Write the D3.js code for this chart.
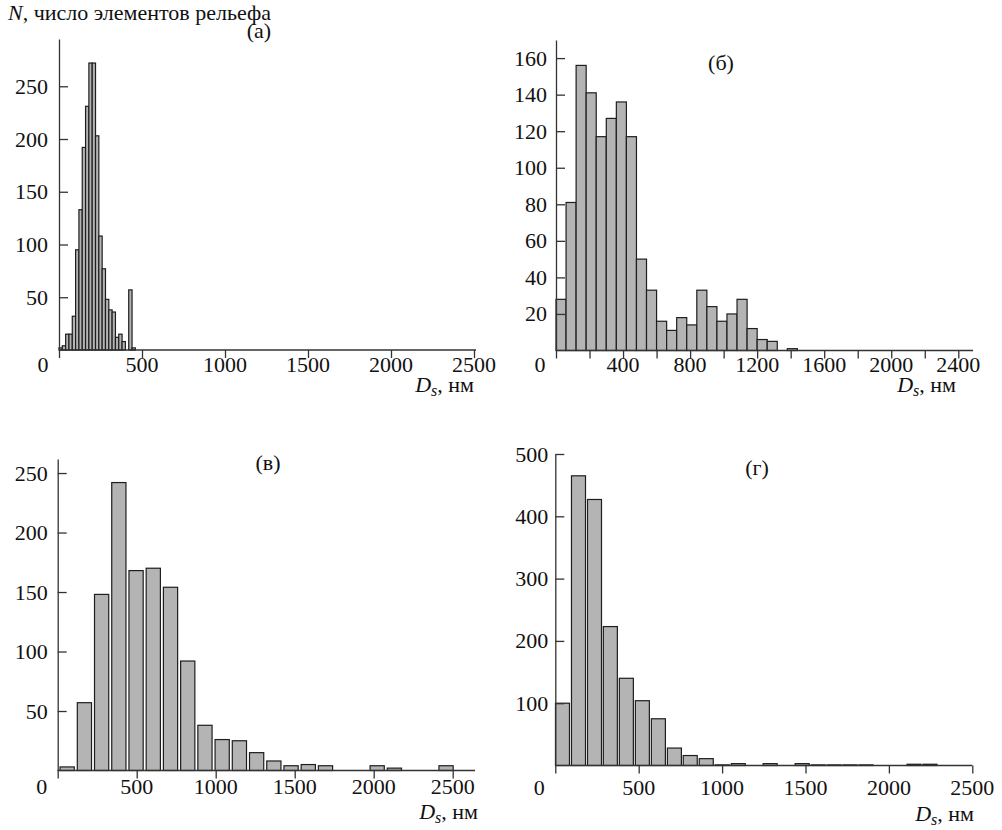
<!doctype html>
<html lang="ru">
<head>
<meta charset="utf-8">
<title>Распределение элементов рельефа</title>
<script src="https://cdn.jsdelivr.net/npm/d3@7"></script>
<style>
  body { margin: 0; background: #fff; }
  svg text { font-family: "Liberation Serif", "Times New Roman", "DejaVu Serif", serif; font-size: 22px; fill: #111; }
  .bar { fill: #b4b4b4; stroke: #1e1e1e; stroke-width: 1.2; }
  .axis path, .axis line, .axisline { stroke: #333; stroke-width: 1.3; fill: none; }
</style>
</head>
<body>
<svg id="chart" width="1002" height="830"></svg>
<script>

  // (а) bin centres, nm, and counts
  var centersA = [10, 30, 50, 70, 90, 110, 130, 150, 170, 190, 210, 230, 250, 270, 290, 310, 330, 350, 370, 390, 410, 430, 450];
  var countsA  = [2, 4, 15, 15, 32, 95, 133, 192, 231, 272, 272, 203, 108, 77, 48, 38, 36, 12, 15, 8, 0, 57, 2];

  // (б)
  var centersB = [30, 90, 150, 210, 270, 330, 390, 450, 510, 570, 630, 690, 750, 810, 870, 930, 990, 1050, 1110, 1170, 1230, 1290, 1350, 1410];
  var countsB  = [28, 81, 156, 141, 117, 127, 136, 117, 50, 33, 16, 11, 18, 14, 33, 24, 16, 20, 28, 12, 6, 5, 0, 1];

  // (в)
  var centersV = [60, 169, 278, 387, 496, 605, 714, 823, 932, 1041, 1150, 1259, 1368, 1477, 1586, 1695, 1804, 1913, 2022, 2131, 2240, 2349, 2458];
  var countsV  = [3, 57, 148, 242, 168, 170, 154, 92, 38, 26, 25, 15, 8, 4, 5, 4, 0, 0, 4, 2, 0, 0, 4];

  // (г)
  var centersG = [43, 139, 235, 330, 426, 522, 618, 714, 809, 905, 1001, 1097, 1193, 1288, 1384, 1480, 1576, 1672, 1767, 1863, 1959, 2055, 2151, 2246];
  var countsG  = [100, 465, 427, 223, 140, 104, 75, 28, 16, 11, 1, 3, 0, 3, 0, 3, 1, 1, 1, 1, 0, 0, 2, 2];

  // tick values
  var ticksX2500 = [0, 500, 1000, 1500, 2000, 2500];
  var ticksXB    = [0, 200, 400, 600, 800, 1000, 1200, 1400, 1600, 1800, 2000, 2200, 2400];
  var labelsXB   = [0, 400, 800, 1200, 1600, 2000, 2400];
  var ticksYA    = [50, 100, 150, 200, 250];
  var ticksYB    = [20, 40, 60, 80, 100, 120, 140, 160];
  var ticksYG    = [100, 200, 300, 400, 500];

  var FONT = '"Liberation Serif", "Times New Roman", "DejaVu Serif", serif';
  var svg = d3.select("#chart");

  // panel layouts (pixels)
  var panels = [
    { name: "(а)", centers: centersA, counts: countsA, binW: 20,
      x0: 59, xDomMax: 2500, xDomPx: 474, xEnd: 476, yBase: 350, yTop: 39, yTopVal: 294.8,
      xTicks: ticksX2500, xLabels: ticksX2500, yTicks: ticksYA, yPad: 11,
      tag: [259, 38], dsX: 474, dsY: 392, xLabY: 372 },
    { name: "(б)", centers: centersB, counts: countsB, binW: 60,
      x0: 556, xDomMax: 2400, xDomPx: 958.3, xEnd: 973, yBase: 350.5, yTop: 40, yTopVal: 169.9,
      xTicks: ticksXB, xLabels: labelsXB, yTicks: ticksYB, yPad: 9,
      tag: [721, 70], dsX: 956, dsY: 392, xLabY: 372 },
    { name: "(в)", centers: centersV, counts: countsV, binW: 90,
      x0: 57.7, xDomMax: 2500, xDomPx: 452.7, xEnd: 475, yBase: 770.5, yTop: 459, yTopVal: 261.8,
      xTicks: ticksX2500, xLabels: ticksX2500, yTicks: ticksYA, yPad: 10,
      tag: [268, 470], dsX: 478, dsY: 819, xLabY: 794 },
    { name: "(г)", centers: centersG, counts: countsG, binW: 84,
      x0: 555.3, xDomMax: 2500, xDomPx: 972.3, xEnd: 972.3, yBase: 765.5, yTop: 454, yTopVal: 500,
      xTicks: ticksX2500, xLabels: ticksX2500, yTicks: ticksYG, yPad: 7,
      tag: [757, 475], dsX: 974, dsY: 821, xLabY: 795 }
  ];

  panels.forEach(function(p) {
    var x = d3.scaleLinear().domain([0, p.xDomMax]).range([p.x0, p.xDomPx]);
    var y = d3.scaleLinear().domain([0, p.yTopVal]).range([p.yBase, p.yTop]);
    var g = svg.append("g");

    var bins = p.centers.map(function(c, i) { return { c: c, n: p.counts[i] }; })
                        .filter(function(d) { return d.n > 0; });

    // bars
    g.selectAll(".bar")
      .data(bins)
      .enter()
      .append("rect")
      .attr("class", "bar")
      .attr("x", function(d) { return x(d.c - p.binW / 2); })
      .attr("width", function(d) { return x(d.c + p.binW / 2) - x(d.c - p.binW / 2); })
      .attr("y", function(d) { return y(d.n); })
      .attr("height", function(d) { return y(0) - y(d.n); });

    // x axis: baseline line, downward ticks
    g.append("line")
      .attr("class", "axisline")
      .attr("x1", p.x0).attr("x2", p.xEnd)
      .attr("y1", p.yBase).attr("y2", p.yBase);
    var xa = g.append("g")
      .attr("class", "axis")
      .attr("transform", "translate(0," + p.yBase + ")")
      .call(d3.axisBottom(x).tickValues(p.xTicks).tickSize(8).tickFormat(""));
    xa.select(".domain").remove();

    g.selectAll(".xlab")
      .data(p.xLabels)
      .enter()
      .append("text")
      .attr("font-family", FONT)
      .attr("x", function(d) { return d === 0 ? x(0) - 16 : x(d); })
      .attr("y", p.xLabY)
      .attr("text-anchor", "middle")
      .text(function(d) { return d; });

    // y axis, ticks pointing inward
    var ya = g.append("g")
      .attr("class", "axis")
      .attr("transform", "translate(" + p.x0 + ",0)")
      .call(d3.axisLeft(y).tickValues(p.yTicks).tickSizeInner(-9).tickSizeOuter(0).tickPadding(p.yPad));
    ya.attr("font-family", FONT).attr("font-size", 22);
    ya.selectAll("text").attr("fill", "#111");

    // panel tag
    g.append("text")
      .attr("font-family", FONT)
      .attr("x", p.tag[0]).attr("y", p.tag[1])
      .attr("text-anchor", "middle")
      .text(p.name);

    // x label D_s, нм
    var t = g.append("text")
      .attr("font-family", FONT)
      .attr("x", p.dsX).attr("y", p.dsY)
      .attr("text-anchor", "end");
    t.append("tspan").attr("font-style", "italic").text("D");
    t.append("tspan").attr("font-style", "italic").style("font-size", "16px").attr("dy", 4).text("s");
    t.append("tspan").attr("dy", -4).text(", нм");
  });

  // y axis title
  var title = svg.append("text").attr("font-family", FONT).attr("x", 8).attr("y", 20);
  title.append("tspan").attr("font-style", "italic").text("N");
  title.append("tspan").text(", число элементов рельефа");

</script>
</body>
</html>
